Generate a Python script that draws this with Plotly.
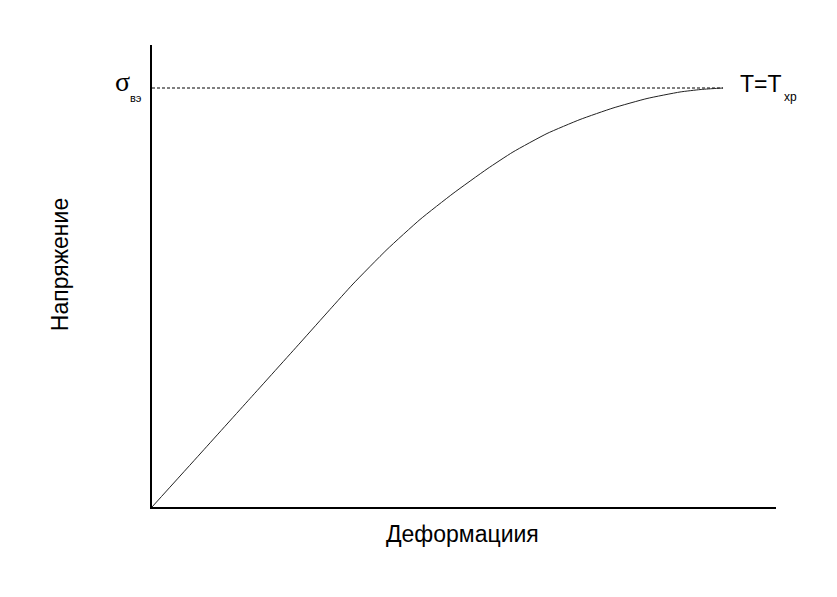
import plotly.graph_objects as go

# Data (deformation and stress in arbitrary units)
deformation = [0, 7.69, 15.71, 23.72, 28.53, 32.21, 37.66, 42.95, 48.24, 53.69, 57.85,
               63.30, 68.59, 73.88, 79.33, 84.62, 87.82, 89.90, 91.51]
stress = [0, 11.47, 23.48, 35.50, 42.77, 48.27, 55.74, 62.23, 67.86, 73.16, 76.84,
          80.84, 83.87, 86.36, 88.42, 89.83, 90.35, 90.56, 90.69]
sigma_level = 90.69
x_title = "Деформациия"
y_title = "Напряжение"

fig = go.Figure()
fig.add_trace(go.Scatter(
    x=[0, deformation[-1]], y=[sigma_level, sigma_level], mode="lines",
    line=dict(color="black", width=1, dash="3px,2px"), hoverinfo="skip", showlegend=False))
fig.add_trace(go.Scatter(
    x=deformation, y=stress, mode="lines",
    line=dict(color="#222222", width=1, shape="spline", smoothing=0.5),
    showlegend=False))

# page is offset by the 8px body margin
fig.update_layout(
    width=829, height=589,
    margin=dict(l=144, r=61, t=37, b=90),
    paper_bgcolor="white", plot_bgcolor="white",
    font=dict(family="Liberation Sans, Arial, sans-serif", color="black"),
    xaxis=dict(range=[0, 100], showgrid=False, zeroline=False, showticklabels=False,
               ticks="", showline=True, linecolor="black", linewidth=2, fixedrange=True),
    yaxis=dict(range=[0, 100], showgrid=False, zeroline=False, showticklabels=False,
               ticks="", showline=True, linecolor="black", linewidth=2, fixedrange=True),
    annotations=[
        dict(text=x_title, xref="paper", yref="paper", x=0.498, y=-0.058,
             xanchor="center", yanchor="middle", showarrow=False, font=dict(size=23)),
        dict(text=y_title, xref="paper", yref="paper", x=-0.147, y=0.524, textangle=-90,
             xanchor="center", yanchor="middle", showarrow=False, font=dict(size=23)),
        dict(text="σ", xref="paper", yref="paper", x=-0.0465, y=0.9220,
             xanchor="center", yanchor="middle", showarrow=False,
             font=dict(size=28, family="Liberation Serif, Times New Roman, serif")),
        dict(text="вэ", xref="paper", yref="paper", x=-0.0250, y=0.8845,
             xanchor="center", yanchor="middle", showarrow=False, font=dict(size=11)),
        dict(text="T=T", xref="paper", yref="paper", x=0.939, y=0.9156,
             xanchor="left", yanchor="middle", showarrow=False, font=dict(size=23)),
        dict(text="хр", xref="paper", yref="paper", x=1.0096, y=0.8874,
             xanchor="left", yanchor="middle", showarrow=False, font=dict(size=12)),
    ],
)

fig.write_html("out.html")
